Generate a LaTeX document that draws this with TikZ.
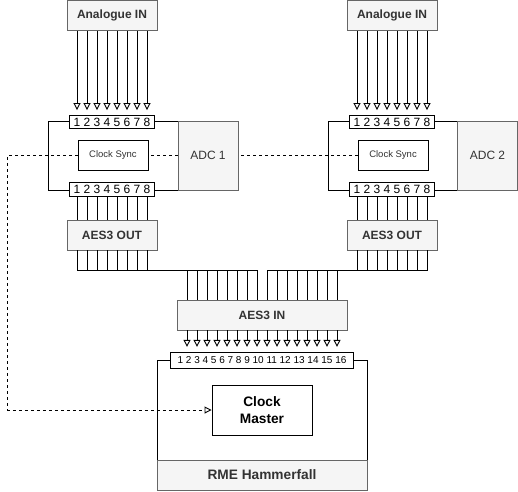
\documentclass[tikz,border=0pt]{standalone}
\usepackage{fontspec}
\setmainfont{Liberation Sans}
\usetikzlibrary{calc,arrows.meta,backgrounds}
\definecolor{boxfill}{HTML}{F5F5F5}
\definecolor{boxline}{HTML}{666666}
\definecolor{inktext}{HTML}{333333}
\tikzset{
  greybox/.style={draw=boxline, fill=boxfill, text=inktext, line width=0.9pt, inner sep=0pt, font=\fontsize{12}{14}\selectfont\bfseries},
  framebox/.style={draw, line width=0.9pt, inner sep=0pt},
  portbox/.style={draw, fill=white, line width=0.9pt, inner sep=0pt, minimum width=85, font=\fontsize{12}{14}\selectfont},
  syncbox/.style={draw, fill=white, line width=0.9pt, inner sep=0pt, minimum width=70, minimum height=30, text=inktext, font=\fontsize{9.5}{11}\selectfont},
  wire/.style={line width=0.9pt},
  feed/.style={wire, -{Triangle[open,length=7pt,width=7pt]}, shorten >=5pt},
  clocklink/.style={line width=0.9pt, dash pattern=on 3pt off 3pt},
}

\begin{document}
\begin{tikzpicture}[x=1pt,y=-1pt]
	%%%%% START %%%%%
	\useasboundingbox (0,0) rectangle (518,491);
	
	% ADC 1
	\node[framebox, minimum width=130, minimum height=69.5] (frame1) at (113,155.75) {};
	\node[greybox, minimum width=60, minimum height=69.5, font=\fontsize{12}{14}\selectfont] (adc1) at (208,155.75) {ADC 1};
	\node[syncbox] (sync1) at (113,155.5) {Clock Sync};
	\node[portbox, minimum height=13] (in1) at (112,122) {1 2 3 4 5 6 7 8};
	\node[portbox, minimum height=14] (out1) at (112,189.5) {1 2 3 4 5 6 7 8};
	\node[greybox, minimum width=90, minimum height=30] (ain1) at (112,15.5) {Analogue IN};
	\node[greybox, minimum width=90, minimum height=30] (aout1) at (112,235) {AES3 OUT};
	
	% ADC 2
	\node[framebox, minimum width=130, minimum height=69.5] (frame2) at (393,155.75) {};
	\node[greybox, minimum width=60, minimum height=69.5, font=\fontsize{12}{14}\selectfont] (adc2) at (487.5,155.75) {ADC 2};
	\node[syncbox] (sync2) at (393,155.5) {Clock Sync};
	\node[portbox, minimum height=13] (in2) at (392,122) {1 2 3 4 5 6 7 8};
	\node[portbox, minimum height=14] (out2) at (392,189.5) {1 2 3 4 5 6 7 8};
	\node[greybox, minimum width=90, minimum height=30] (ain2) at (392,15.5) {Analogue IN};
	\node[greybox, minimum width=90, minimum height=30] (aout2) at (392,235) {AES3 OUT};
	
	% RME Hammerfall
	\node[greybox, minimum width=170, minimum height=30] (aesin) at (262,315) {AES3 IN};
	\node[framebox, minimum width=210, minimum height=99.3] (rme) at (262,410.35) {};
	\node[greybox, minimum width=210, minimum height=30, font=\fontsize{13.7}{16}\selectfont\bfseries] (rmelbl) at (262,475) {RME Hammerfall};
	\node[portbox, minimum width=183, minimum height=16, font=\fontsize{10}{12}\selectfont] (in16) at (262,360.3) {1 2 3 4 5 6 7 8 9 10 11 12 13 14 15 16};
	\node[draw, fill=white, line width=0.9pt, minimum width=100, minimum height=50, align=center, font=\fontsize{13.7}{17}\selectfont\bfseries] (master) at (262,410) {Clock\\Master};
	
	% channels
	\foreach \i in {0,...,7} {
		\draw[feed] ($(ain1.south)+(\i*10-35,0)$) -- ($(in1.north)+(\i*10-35,0)$);
		\draw[feed] ($(ain2.south)+(\i*10-35,0)$) -- ($(in2.north)+(\i*10-35,0)$);
		\draw[wire] ($(out1.south)+(\i*10-35,0)$) -- ($(aout1.north)+(\i*10-35,0)$);
		\draw[wire] ($(out2.south)+(\i*10-35,0)$) -- ($(aout2.north)+(\i*10-35,0)$);
		\draw[wire] ($(aout1.south)+(\i*10-35,0)$) -- ++(0,20) -| ($(aesin.north)+(\i*10-75,0)$);
		\draw[wire] ($(aout2.south)+(\i*10-35,0)$) -- ++(0,20) -| ($(aesin.north)+(\i*10+5,0)$);
	}
	\foreach \j in {0,...,15}
		\draw[feed] ($(aesin.south)+(\j*10-75,0)$) -- ($(in16.north)+(\j*10-75,0)$);
	
	% word clock
	\begin{scope}[on background layer]
		\draw[clocklink] (sync2.west) -- (sync1.east);
		\draw[clocklink, -{Triangle[open,length=7pt,width=7pt]}] (sync1.west) -| (7.5,410) -- (master.west);
	\end{scope}
	%%%%% END %%%%%
\end{tikzpicture}
\end{document}
